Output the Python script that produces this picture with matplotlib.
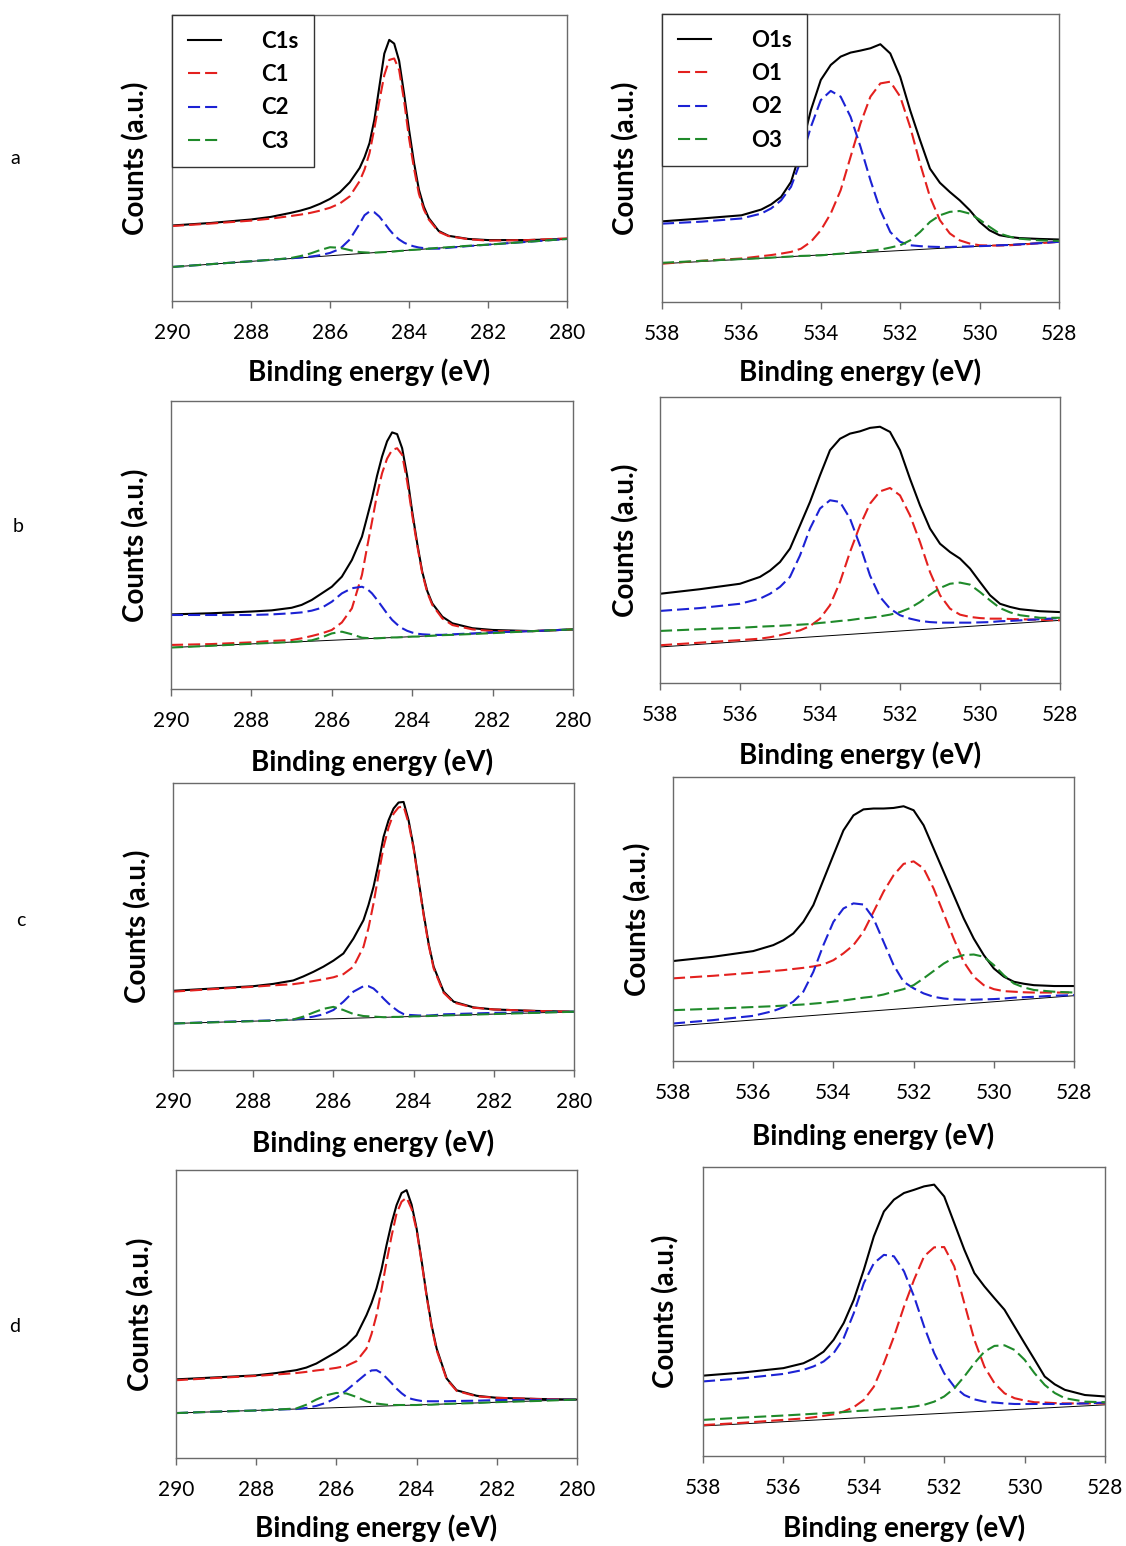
import matplotlib
matplotlib.use('Agg')
import matplotlib.pyplot as plt

plt.rcParams['font.family'] = ['Lato', 'DejaVu Sans']

# ---------------- data (counts in a.u.) ----------------
C_ENERGY = [290, 289, 288, 287.5, 287, 286.75, 286.5, 286.25, 286, 285.75, 285.5, 285.25,
            285.125, 285, 284.875, 284.75, 284.625, 284.5, 284.375, 284.25, 284.125, 284,
            283.875, 283.75, 283.625, 283.5, 283.25, 283, 282.5, 282, 281, 280]
O_ENERGY = [538, 537, 536, 535.5, 535.25, 535, 534.75, 534.5, 534.25, 534, 533.75, 533.5,
            533.25, 533, 532.75, 532.5, 532.25, 532, 531.75, 531.5, 531.25, 531, 530.75,
            530.5, 530.25, 530, 529.75, 529.5, 529.25, 529, 528.5, 528]
C_BG_ENERGY = [290, 280]
O_BG_ENERGY = [538, 528]
C_TICKS = [290, 288, 286, 284, 282, 280]
O_TICKS = [538, 536, 534, 532, 530, 528]
C_NAMES = ['C1s', 'C1', 'C2', 'C3']
O_NAMES = ['O1s', 'O1', 'O2', 'O3']
ROW_LABELS = ['a', 'b', 'c', 'd']

# sample a
A_C1S = [26.4, 27.3, 28.5, 29.4, 30.8, 31.6, 32.6, 34.0, 35.7, 38.0, 41.5, 46.5,
         50.3, 55.2, 63.5, 75.0, 86.5, 91.3, 90.0, 84.0, 72.5, 60.0,
         48.5, 39.0, 33.0, 29.0, 24.5, 22.8, 21.7, 21.3, 21.3, 21.7]
A_C1 = [26.2, 27.1, 28.1, 28.8, 29.7, 30.2, 30.8, 31.6, 32.6, 34.1, 36.6, 41.9,
        46.0, 51.7, 60.5, 70.0, 79.0, 84.3, 84.8, 80.8, 70.0, 57.0,
        46.5, 37.5, 32.0, 28.5, 24.2, 22.7, 21.6, 21.1, 21.3, 21.9]
A_C2 = [11.9, 12.9, 13.9, 14.4, 14.9, 15.2, 15.5, 16.0, 16.8, 18.2, 21.5, 27.0,
        30.0, 31.3, 31.0, 29.5, 27.3, 25.0, 23.0, 21.5, 20.4, 19.6,
        19.1, 18.7, 18.5, 18.3, 18.3, 18.6, 19.2, 19.7, 20.7, 21.7]
A_C3 = [11.9, 12.9, 13.9, 14.4, 15.0, 15.7, 16.6, 17.8, 18.8, 18.6, 17.8, 17.1,
        17.0, 16.9, 16.9, 17.0, 17.1, 17.2, 17.3, 17.5, 17.6, 17.8,
        17.9, 18.0, 18.1, 18.3, 18.6, 18.8, 19.3, 19.7, 20.7, 21.7]
A_C_BG = [11.9, 21.7]
A_O1S = [28.0, 29.0, 30.1, 32.1, 33.9, 36.5, 41.7, 52.7, 66.6, 77.1, 82.3, 85.2,
         86.6, 87.3, 88.1, 89.5, 86.3, 78.2, 66.6, 56.2, 46.3, 41.4, 38.2,
         35.3, 31.9, 27.8, 24.9, 23.2, 22.6, 22.2, 21.9, 21.7]
A_O1 = [13.3, 14.3, 15.1, 15.9, 16.3, 16.8, 17.4, 18.5, 20.9, 24.9, 30.7, 38.8,
        50.4, 62.0, 71.3, 75.9, 76.5, 71.3, 60.8, 48.1, 36.5, 28.4, 23.8,
        21.4, 20.3, 19.7, 19.6, 19.6, 19.7, 19.9, 20.4, 20.9]
A_O2 = [27.2, 27.9, 29.0, 30.7, 32.5, 35.3, 40.0, 49.2, 60.8, 70.1, 73.3, 71.3,
        64.3, 53.9, 42.3, 31.9, 24.3, 20.9, 19.7, 19.4, 19.2, 19.1, 19.1,
        19.2, 19.3, 19.4, 19.5, 19.7, 19.8, 20.0, 20.4, 20.9]
A_O3 = [13.6, 14.3, 14.9, 15.2, 15.4, 15.6, 15.8, 16.0, 16.1, 16.2, 16.5, 16.8,
        17.1, 17.4, 17.8, 18.2, 18.9, 19.7, 21.4, 24.3, 27.8, 30.1, 31.3,
        31.6, 30.7, 28.6, 26.1, 23.8, 22.7, 22.0, 21.4, 21.2]
A_O_BG = [13.3, 20.9]

# sample b
B_C1S = [25.9, 26.3, 26.9, 27.3, 28.2, 29.2, 30.9, 33.2, 35.5, 39.0, 44.8, 52.9,
         59.5, 66.2, 74.0, 80.7, 86.0, 89.1, 88.5, 83.6, 74.0, 61.6,
         50.5, 40.7, 34.0, 29.7, 25.1, 22.8, 21.1, 20.5, 20.1, 20.7]
B_C1 = [15.3, 15.6, 16.2, 16.7, 17.0, 17.6, 18.4, 19.3, 20.5, 23.1, 28.0, 39.6,
        49.0, 58.1, 67.5, 74.9, 80.0, 83.0, 83.6, 81.3, 72.0, 60.4,
        49.8, 40.2, 33.5, 29.2, 24.5, 22.2, 20.7, 20.1, 20.1, 20.7]
B_C2 = [25.7, 25.7, 25.7, 25.9, 26.3, 26.6, 27.2, 28.2, 30.3, 33.2, 35.0, 35.5,
        34.8, 33.2, 31.0, 28.6, 26.2, 24.0, 22.4, 21.1, 20.2, 19.6,
        19.2, 19.0, 18.9, 18.8, 18.8, 19.0, 19.3, 19.7, 20.1, 20.7]
B_C3 = [14.4, 15.0, 15.7, 16.0, 16.3, 16.6, 16.9, 17.9, 19.3, 19.9, 19.0, 17.8,
        17.7, 17.6, 17.6, 17.7, 17.8, 17.9, 17.9, 18.0, 18.1, 18.2,
        18.2, 18.3, 18.4, 18.5, 18.7, 18.8, 19.1, 19.4, 20.1, 20.7]
B_C_BG = [14.4, 20.7]
B_O1S = [31.2, 32.8, 34.7, 37.1, 39.3, 42.3, 47.0, 55.1, 63.3, 72.6, 81.4, 85.4,
         87.2, 88.0, 89.2, 89.6, 87.8, 81.4, 71.4, 62.1, 54.0, 48.7, 45.8,
         43.5, 40.0, 35.3, 30.7, 27.7, 26.6, 25.8, 25.1, 24.8]
B_O1 = [13.2, 14.1, 15.0, 15.5, 16.0, 16.7, 17.6, 18.4, 19.9, 22.5, 27.2, 35.3,
        45.8, 55.1, 62.7, 67.0, 68.2, 65.6, 58.6, 49.3, 38.8, 30.7, 26.0,
        23.9, 23.1, 22.7, 22.5, 22.5, 22.4, 22.3, 22.1, 21.9]
B_O2 = [25.2, 26.2, 27.7, 29.5, 31.2, 33.6, 37.1, 44.6, 54.0, 61.0, 63.9, 63.3,
        57.5, 48.1, 37.6, 30.1, 26.0, 23.7, 22.5, 21.7, 21.3, 21.1, 21.1,
        21.1, 21.1, 21.2, 21.3, 21.6, 21.7, 21.9, 22.3, 22.7]
B_O3 = [18.2, 18.8, 19.3, 19.7, 19.85, 20.0, 20.2, 20.4, 20.6, 21.0, 21.3, 21.7,
        22.0, 22.5, 22.8, 23.3, 23.9, 24.8, 26.2, 28.3, 30.9, 33.2, 34.7,
        35.1, 34.4, 31.8, 28.9, 26.2, 24.7, 23.7, 22.8, 22.8]
B_O_BG = [12.6, 21.9]

# sample c
C_C1S = [27.6, 28.4, 29.2, 30.0, 31.2, 32.6, 34.2, 36.0, 38.1, 40.6, 45.8, 52.2,
         57.5, 63.8, 72.0, 81.2, 87.0, 91.1, 93.2, 93.4, 87.0, 77.7,
         66.0, 54.5, 44.0, 36.0, 27.3, 23.8, 21.8, 21.1, 20.6, 20.3]
C_C1 = [27.3, 28.2, 29.0, 29.5, 29.9, 30.4, 31.0, 31.6, 32.3, 33.4, 36.0, 42.9,
        49.5, 58.0, 68.0, 77.7, 84.5, 89.3, 91.5, 91.9, 86.0, 77.1,
        65.5, 53.9, 43.5, 35.4, 26.9, 23.5, 21.7, 21.1, 20.6, 20.3]
C_C2 = [16.2, 16.7, 17.1, 17.3, 17.6, 18.0, 18.6, 19.4, 20.9, 23.8, 27.3, 29.2,
        29.2, 28.4, 26.8, 24.9, 23.2, 21.7, 20.4, 19.5, 19.2, 19.1,
        19.0, 19.0, 19.0, 19.1, 19.4, 19.5, 19.7, 19.9, 20.1, 20.3]
C_C3 = [16.2, 16.6, 17.0, 17.2, 17.6, 18.6, 20.0, 21.3, 22.0, 20.9, 19.5, 18.8,
        18.7, 18.6, 18.5, 18.4, 18.4, 18.5, 18.5, 18.6, 18.6, 18.7,
        18.7, 18.8, 18.8, 18.9, 19.0, 19.1, 19.3, 19.5, 19.9, 20.3]
C_C_BG = [16.2, 20.3]
C_O1S = [35.2, 36.7, 38.7, 40.8, 42.5, 44.9, 49.0, 54.9, 63.7, 72.5, 81.2, 86.5,
         88.6, 88.9, 88.9, 89.1, 89.7, 88.3, 83.0, 74.8, 66.6, 58.4, 50.2,
         43.1, 37.3, 32.6, 29.7, 27.9, 27.2, 26.7, 26.4, 26.4]
C_O1 = [29.1, 30.0, 31.1, 31.7, 32.0, 32.4, 32.8, 33.3, 34.0, 35.5, 37.9, 40.8,
        45.5, 52.5, 59.6, 65.4, 69.4, 70.3, 67.8, 60.7, 51.9, 43.1, 34.9,
        29.7, 26.7, 25.3, 24.6, 24.4, 24.2, 24.1, 24.1, 24.1]
C_O2 = [13.2, 14.4, 15.9, 17.6, 18.9, 20.9, 24.4, 31.4, 40.8, 49.0, 53.7, 55.5,
        55.1, 50.2, 42.0, 33.8, 27.9, 25.6, 23.8, 22.6, 22.0, 21.7, 21.6,
        21.6, 21.7, 21.8, 22.0, 22.3, 22.45, 22.6, 23.0, 23.2]
C_O3 = [17.9, 18.4, 19.0, 19.3, 19.5, 19.7, 19.9, 20.2, 20.5, 20.9, 21.3, 21.8,
        22.3, 22.7, 23.4, 24.4, 25.3, 26.7, 29.1, 31.7, 34.3, 36.3, 37.3,
        37.5, 36.7, 33.8, 30.2, 27.3, 25.9, 25.0, 24.4, 24.1]
C_O_BG = [12.3, 23.0]

# sample d
D_C1S = [27.3, 28.0, 28.7, 29.5, 30.5, 31.4, 32.8, 34.8, 36.8, 39.2, 42.6, 49.6,
         53.8, 58.9, 65.5, 73.9, 81.5, 87.8, 92.0, 93.0, 88.0, 79.7,
         68.5, 56.5, 46.0, 38.0, 27.6, 23.5, 21.6, 20.9, 20.5, 20.3]
D_C1 = [27.0, 27.8, 28.5, 29.0, 29.5, 29.9, 30.4, 30.8, 31.3, 32.0, 33.6, 38.0,
        43.0, 49.6, 58.5, 68.1, 77.0, 84.9, 89.0, 90.4, 86.5, 79.1,
        68.0, 56.0, 45.5, 37.4, 27.3, 23.3, 21.4, 20.9, 20.5, 20.3]
D_C2 = [15.6, 16.1, 16.5, 16.8, 17.0, 17.4, 18.1, 19.2, 20.9, 23.5, 26.4, 29.3,
        30.4, 30.5, 29.5, 27.8, 26.0, 24.1, 22.5, 21.2, 20.5, 20.1,
        19.8, 19.7, 19.7, 19.7, 19.7, 19.8, 19.9, 20.1, 20.2, 20.3]
D_C3 = [15.6, 16.1, 16.5, 16.8, 17.2, 18.5, 20.3, 21.8, 22.6, 22.4, 21.2, 19.7,
        19.2, 18.9, 18.7, 18.5, 18.4, 18.4, 18.4, 18.4, 18.4, 18.4,
        18.5, 18.5, 18.5, 18.6, 18.8, 18.9, 19.1, 19.4, 19.8, 20.3]
D_C_BG = [15.6, 20.3]
D_O1S = [27.8, 28.9, 30.4, 32.1, 33.8, 36.1, 40.2, 46.0, 54.0, 64.4, 76.0, 84.6,
         88.7, 91.0, 92.1, 93.3, 93.9, 89.8, 80.6, 71.4, 63.3, 58.7, 54.6,
         50.6, 44.8, 39.0, 33.3, 27.5, 24.8, 22.9, 21.1, 20.6]
D_O1 = [10.7, 11.5, 12.5, 13.0, 13.4, 13.9, 14.4, 15.4, 16.9, 19.4, 24.0, 32.1,
        41.3, 51.7, 61.0, 69.1, 72.2, 72.3, 65.6, 52.9, 40.2, 30.9, 25.2,
        21.7, 20.0, 19.2, 18.6, 18.5, 18.3, 18.2, 18.2, 18.2]
D_O2 = [25.8, 26.9, 28.4, 29.8, 31.0, 32.7, 35.6, 40.8, 49.4, 59.8, 66.7, 69.6,
        69.1, 63.9, 55.2, 44.8, 35.6, 28.6, 24.0, 21.1, 19.6, 18.8, 18.5,
        18.2, 18.0, 18.0, 18.0, 18.0, 18.0, 18.0, 18.2, 18.5]
D_O3 = [12.5, 13.3, 14.0, 14.4, 14.6, 14.8, 15.0, 15.2, 15.5, 15.7, 15.9, 16.2,
        16.4, 16.7, 17.1, 17.7, 18.8, 20.6, 23.4, 27.5, 32.1, 36.1, 38.1,
        38.3, 36.7, 33.3, 28.6, 24.6, 21.8, 20.0, 18.8, 18.6]
D_O_BG = [10.4, 17.7]

# ---------------- styling / layout ----------------
W, H = 1126, 1546
COLORS = ['#000000', '#e3201e', '#1c22d4', '#1f8a2a']
DASH = (5.8, 2.4)
SPINE = '#6a6a6a'

fig = plt.figure(figsize=(W / 100, H / 100), dpi=100)


def panel(box, energy, curves, bg_x, bg_y, ticks, names, xlab_y, ylab_x, legend):
    l, t, r, b = box
    ax = fig.add_axes([l / W, 1 - b / H, (r - l) / W, (b - t) / H])
    ax.plot(bg_x, bg_y, color='black', lw=0.7)
    handles = []
    for i, y in enumerate(curves):
        if i == 0:
            h, = ax.plot(energy, y, color=COLORS[0], lw=1.5, label=names[0])
        else:
            h, = ax.plot(energy, y, color=COLORS[i], lw=1.5, dashes=DASH, label=names[i])
        handles.append(h)
    ax.set_xlim(ticks[0], ticks[-1])
    ax.set_ylim(0, 100)
    ax.set_xticks(ticks)
    ax.set_xticklabels([str(v) for v in ticks])
    ax.set_yticks([])
    ax.tick_params(axis='x', direction='out', length=5, width=1, color=SPINE,
                   labelsize=15, pad=11)
    for s in ax.spines.values():
        s.set_color(SPINE)
        s.set_linewidth(1.0)
    hpx = b - t
    wpx = r - l
    ax.set_xlabel('Binding energy (eV)', fontsize=20, fontweight='bold')
    ax.xaxis.label.set_va('center')
    ax.xaxis.set_label_coords(0.5, -(xlab_y - b) / hpx)
    ax.set_ylabel('Counts (a.u.)', fontsize=20, fontweight='bold')
    ax.yaxis.label.set_va('center')
    ax.yaxis.set_label_coords(-(l - ylab_x) / wpx, 0.5)
    if legend:
        leg = ax.legend(handles=handles, loc='upper left', bbox_to_anchor=(0, 1),
                        borderaxespad=0, fancybox=False, framealpha=1,
                        edgecolor='#333333', prop={'weight': 'bold', 'size': 16},
                        handlelength=1.5, handletextpad=1.8, labelspacing=0.56,
                        borderpad=0.7)
        leg.get_frame().set_linewidth(1.0)
    return ax


rows = [
    ((172, 15, 567, 301), [A_C1S, A_C1, A_C2, A_C3], A_C_BG, 372, 136,
     (662, 14, 1059, 302), [A_O1S, A_O1, A_O2, A_O3], A_O_BG, 372, 626, True, 158, 15),
    ((171, 401, 573, 689), [B_C1S, B_C1, B_C2, B_C3], B_C_BG, 762, 136,
     (660, 397, 1060, 683), [B_O1S, B_O1, B_O2, B_O3], B_O_BG, 755, 626, False, 527, 18),
    ((173, 783, 574, 1070), [C_C1S, C_C1, C_C2, C_C3], C_C_BG, 1143, 138,
     (673, 777, 1074, 1061), [C_O1S, C_O1, C_O2, C_O3], C_O_BG, 1136, 638, False, 920, 21),
    ((176, 1170, 577, 1458), [D_C1S, D_C1, D_C2, D_C3], D_C_BG, 1528, 141,
     (703, 1167, 1105, 1456), [D_O1S, D_O1, D_O2, D_O3], D_O_BG, 1528, 666, False, 1327, 15),
]

for k, (cbox, ccur, cbg, cxl, cyl, obox, ocur, obg, oxl, oyl, leg, ly, lx) in enumerate(rows):
    panel(cbox, C_ENERGY, ccur, C_BG_ENERGY, cbg, C_TICKS, C_NAMES, cxl, cyl, leg)
    panel(obox, O_ENERGY, ocur, O_BG_ENERGY, obg, O_TICKS, O_NAMES, oxl, oyl, leg)
    fig.text(lx / W, 1 - ly / H, ROW_LABELS[k], fontsize=14, ha='center', va='center')

fig.savefig('out.png', dpi=100)
